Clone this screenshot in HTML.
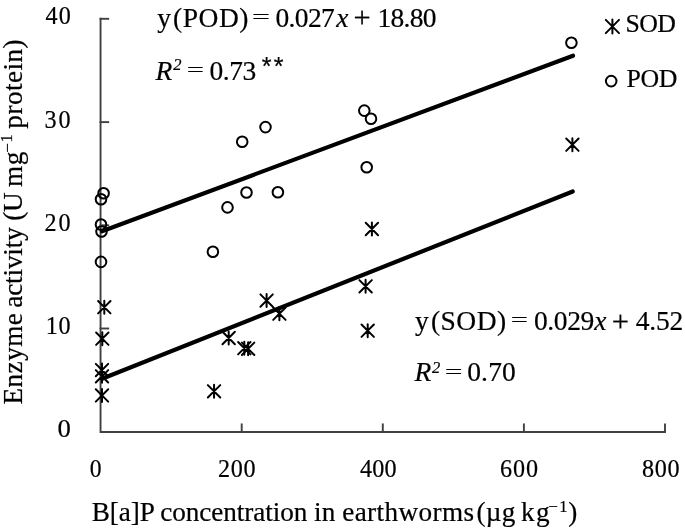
<!DOCTYPE html>
<html><head><meta charset="utf-8"><style>
html,body{margin:0;padding:0;background:#fff;}
body{width:685px;height:529px;overflow:hidden;}
svg{display:block;}
</style></head><body>
<svg width="685" height="529" viewBox="0 0 685 529">
<rect width="685" height="529" fill="#fff"/>
<g stroke="#404040" stroke-width="1.9" fill="none" stroke-linecap="square">
<path d="M100.55 18.8L100.55 432.0L665.0 432.0"/>
<path d="M100.55 18.8L108.2 18.8"/>
<path d="M100.55 122.1L108.2 122.1"/>
<path d="M100.55 225.3L108.2 225.3"/>
<path d="M100.55 328.5L108.2 328.5"/>
<path d="M241.7 432.0L241.7 424.4"/>
<path d="M382.8 432.0L382.8 424.4"/>
<path d="M523.9 432.0L523.9 424.4"/>
<path d="M665.0 432.0L665.0 424.4"/>
</g>
<g stroke="#000" stroke-width="4.2" stroke-linecap="round">
<path d="M102 231.3L573.0 55.7"/>
<path d="M102 378.7L572.7 191.5"/>
</g>
<g fill="none" stroke="#000" stroke-width="2.0">
<circle cx="103.6" cy="193.3" r="5.3"/>
<circle cx="101" cy="199.3" r="5.3"/>
<circle cx="101" cy="224.5" r="5.3"/>
<circle cx="101.5" cy="231.5" r="5.3"/>
<circle cx="101" cy="261.9" r="5.3"/>
<circle cx="212.9" cy="251.7" r="5.3"/>
<circle cx="227.5" cy="207.4" r="5.3"/>
<circle cx="242.2" cy="141.8" r="5.3"/>
<circle cx="246.5" cy="192.5" r="5.3"/>
<circle cx="265.5" cy="127.1" r="5.3"/>
<circle cx="277.9" cy="192.3" r="5.3"/>
<circle cx="364.3" cy="110.6" r="5.3"/>
<circle cx="371" cy="118.8" r="5.3"/>
<circle cx="366.7" cy="167.3" r="5.3"/>
<circle cx="571.4" cy="42.8" r="5.3"/>
<circle cx="611.2" cy="81.1" r="5.3"/>
</g>
<g stroke="#000" stroke-width="2.0" stroke-linecap="round">
<path d="M98.10 301.00L110.50 313.40M110.50 301.00L98.10 313.40M104.30 300.70L104.30 313.70"/>
<path d="M96.10 332.50L108.50 344.90M108.50 332.50L96.10 344.90M102.30 332.20L102.30 345.20"/>
<path d="M95.80 363.90L108.20 376.30M108.20 363.90L95.80 376.30M102.00 363.60L102.00 376.60"/>
<path d="M95.80 370.10L108.20 382.50M108.20 370.10L95.80 382.50M102.00 369.80L102.00 382.80"/>
<path d="M95.80 389.20L108.20 401.60M108.20 389.20L95.80 401.60M102.00 388.90L102.00 401.90"/>
<path d="M207.85 385.10L220.25 397.50M220.25 385.10L207.85 397.50M214.05 384.80L214.05 397.80"/>
<path d="M222.50 331.80L234.90 344.20M234.90 331.80L222.50 344.20M228.70 331.50L228.70 344.50"/>
<path d="M238.10 342.00L250.50 354.40M250.50 342.00L238.10 354.40M244.30 341.70L244.30 354.70"/>
<path d="M241.90 342.60L254.30 355.00M254.30 342.60L241.90 355.00M248.10 342.30L248.10 355.30"/>
<path d="M260.40 294.40L272.80 306.80M272.80 294.40L260.40 306.80M266.60 294.10L266.60 307.10"/>
<path d="M273.20 307.50L285.60 319.90M285.60 307.50L273.20 319.90M279.40 307.20L279.40 320.20"/>
<path d="M359.40 280.10L371.80 292.50M371.80 280.10L359.40 292.50M365.60 279.80L365.60 292.80"/>
<path d="M365.70 222.80L378.10 235.20M378.10 222.80L365.70 235.20M371.90 222.50L371.90 235.50"/>
<path d="M361.50 324.50L373.90 336.90M373.90 324.50L361.50 336.90M367.70 324.20L367.70 337.20"/>
<path d="M566.20 138.50L578.60 150.90M578.60 138.50L566.20 150.90M572.40 138.20L572.40 151.20"/>
<path d="M605.80 19.90L619.00 33.10M619.00 19.90L605.80 33.10M612.40 19.60L612.40 33.40"/>
</g>
<g font-family="'Liberation Serif', 'Times New Roman', serif" fill="#000" stroke="#000" stroke-width="0.2">
<text x="157.30" y="26.8" font-size="27.5">y</text>
<text x="173.10" y="26.8" font-size="27.5" letter-spacing="0.50">(POD)</text>
<text transform="translate(260.65 16.55) scale(1.162 0.700) translate(-259.60 -17.30)" x="252.10" y="26.8" font-size="27.5">=</text>
<text x="275.40" y="26.8" font-size="27.5" letter-spacing="-0.60">0.027</text>
<text x="336.20" y="26.8" font-size="27.5" font-style="italic">x</text>
<text transform="translate(361.90 17.50) scale(1.108 1.050) translate(-361.20 -17.30)" x="353.70" y="26.8" font-size="27.5">+</text>
<text x="377.40" y="26.8" font-size="27.5" letter-spacing="-0.70">18.80</text>
<text x="155.40" y="79.6" font-size="27.5" font-style="italic">R</text>
<text x="173.20" y="70.0" font-size="16.5" font-style="italic">2</text>
<text transform="translate(195.15 69.40) scale(1.115 0.700) translate(-194.40 -70.10)" x="186.90" y="79.6" font-size="27.5">=</text>
<text x="209.50" y="79.6" font-size="27.5" letter-spacing="-0.43">0.73</text>
<text x="261.80" y="74.5" font-size="25" font-family="'Liberation Sans', sans-serif" letter-spacing="2.20">**</text>
<text x="625.50" y="31.7" font-size="25.8" letter-spacing="-0.65">SOD</text>
<text x="626.50" y="86.9" font-size="25.8" letter-spacing="-0.35">POD</text>
<text x="415.10" y="330.0" font-size="27.5">y</text>
<text x="430.90" y="330.0" font-size="27.5" letter-spacing="0.50">(SOD)</text>
<text transform="translate(519.15 319.35) scale(1.115 0.700) translate(-518.40 -320.50)" x="510.90" y="330.0" font-size="27.5">=</text>
<text x="534.00" y="330.0" font-size="27.5" letter-spacing="-0.40">0.029</text>
<text x="594.20" y="330.0" font-size="27.5" font-style="italic">x</text>
<text transform="translate(620.15 320.60) scale(1.115 1.050) translate(-619.40 -320.50)" x="611.90" y="330.0" font-size="27.5">+</text>
<text x="635.80" y="330.0" font-size="27.5" letter-spacing="-0.20">4.52</text>
<text x="414.40" y="381.4" font-size="27.5" font-style="italic">R</text>
<text x="431.90" y="372.9" font-size="16.5" font-style="italic">2</text>
<text transform="translate(453.35 371.10) scale(1.146 0.700) translate(-452.40 -371.90)" x="444.90" y="381.4" font-size="27.5">=</text>
<text x="467.20" y="381.4" font-size="27.5" letter-spacing="0.17">0.70</text>
<text x="91.70" y="521.2" font-size="27.2" letter-spacing="-0.07">B[a]P</text>
<text x="160.20" y="521.2" font-size="27.2" letter-spacing="-0.07">concentration</text>
<text x="314.10" y="521.2" font-size="27.2">in</text>
<text x="342.20" y="521.2" font-size="27.2" letter-spacing="0.39">earthworms</text>
<text x="476.60" y="521.2" font-size="27.2" letter-spacing="0.20">(µg</text>
<text x="521.00" y="521.2" font-size="27.2" letter-spacing="1.50">kg</text>
<text x="548.30" y="512.0" font-size="17">−</text>
<text x="559.20" y="511.6" font-size="16.5">1</text>
<text x="568.30" y="521.2" font-size="27.2">)</text>
<text transform="translate(95.60 468.50) scale(0.909 1.000) translate(-96.10 -468.50)" x="89.60" y="477.0" font-size="26">0</text>
<text transform="translate(219.00 0) scale(0.93 1) translate(-219.00 0)" x="218.00" y="477.0" font-size="26" letter-spacing="0.75">200</text>
<text transform="translate(360.00 0) scale(0.93 1) translate(-360.00 0)" x="360.00" y="477.0" font-size="26" letter-spacing="0.14">400</text>
<text transform="translate(501.00 0) scale(0.93 1) translate(-501.00 0)" x="500.00" y="477.0" font-size="26" letter-spacing="0.91">600</text>
<text transform="translate(642.90 0) scale(0.93 1) translate(-642.90 0)" x="641.90" y="477.0" font-size="26" letter-spacing="0.75">800</text>
<text transform="translate(45.40 0) scale(0.93 1) translate(-45.40 0)" x="45.40" y="24.3" font-size="26" letter-spacing="1.24">40</text>
<text transform="translate(45.40 0) scale(0.93 1) translate(-45.40 0)" x="44.40" y="127.6" font-size="26" letter-spacing="2.24">30</text>
<text transform="translate(45.40 0) scale(0.93 1) translate(-45.40 0)" x="44.40" y="230.8" font-size="26" letter-spacing="2.24">20</text>
<text transform="translate(47.50 0) scale(0.93 1) translate(-47.50 0)" x="45.50" y="334.0" font-size="26" letter-spacing="0.98">10</text>
<text transform="translate(64.15 428.60) scale(1.027 1.000) translate(-64.00 -428.60)" x="57.50" y="437.1" font-size="26">0</text>
<text transform="translate(22.0 0) rotate(-90)" x="-404.50" y="0" font-size="27.2" letter-spacing="0.46">Enzyme</text>
<text transform="translate(22.0 0) rotate(-90)" x="-307.80" y="0" font-size="27.2" letter-spacing="-0.14">activity</text>
<text transform="translate(22.0 0) rotate(-90)" x="-220.70" y="0" font-size="27.2" letter-spacing="-0.30">(U</text>
<text transform="translate(22.0 0) rotate(-90)" x="-187.00" y="0" font-size="27.2" letter-spacing="0.70">mg</text>
<text transform="translate(13.0 0) rotate(-90)" x="-152.80" y="0" font-size="17">−</text>
<text transform="translate(12.3 0) rotate(-90)" x="-142.50" y="0" font-size="16.5">1</text>
<text transform="translate(22.0 0) rotate(-90)" x="-128.70" y="0" font-size="27.2" letter-spacing="0.47">protein)</text>
</g>
</svg>
</body></html>
